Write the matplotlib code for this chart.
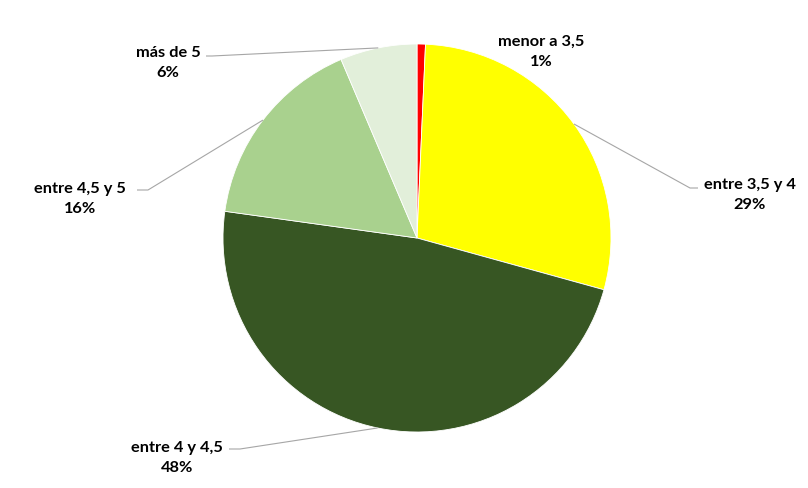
import numpy as np
import matplotlib
matplotlib.use("Agg")
import matplotlib.pyplot as plt

categories = ["menor a 3,5", "entre 3,5 y 4", "entre 4 y 4,5", "entre 4,5 y 5", "más de 5"]
values = [0.7, 28.6, 47.9, 16.4, 6.4]
pct_labels = ["1%", "29%", "48%", "16%", "6%"]
colors = ["#FF0000", "#FFFF00", "#375623", "#A9D18E", "#E2EFDA"]

W, H = 808, 489
fig = plt.figure(figsize=(W / 100, H / 100), dpi=100)
ax = fig.add_axes([0, 0, 1, 1])

cx, cy, r = 417, H - 239, 194
wedges, _ = ax.pie(values, colors=colors, startangle=90, counterclock=False,
                   center=(cx, cy), radius=r, frame=True,
                   wedgeprops=dict(edgecolor="white", linewidth=0.6))
ax.set_xlim(0, W)
ax.set_ylim(0, H)
ax.set_aspect("equal")
ax.axis("off")

# label layout (pixel coords, y from top): text center, elbow point, line end near text
layout = [
    dict(text=(541, 52), elbow=None, end=None),
    dict(text=(750, 195), elbow=(690, 189), end=(698, 189)),
    dict(text=(177, 458), elbow=(240, 450), end=(229, 450)),
    dict(text=(80, 199), elbow=(148, 191), end=(137, 191)),
    dict(text=(168, 63), elbow=(212, 57), end=(206, 57)),
]

font = dict(family=["Lato", "DejaVu Sans"], fontweight="bold", fontsize=11.8, color="black")
line_color = "#A6A6A6"

for w, cat, pct, lay in zip(wedges, categories, pct_labels, layout):
    tx, ty = lay["text"]
    ax.text(tx, H - ty, f"{cat}\n{pct}", ha="center", va="center",
            linespacing=1.5, **font)
    if lay["elbow"] is not None:
        mid = np.deg2rad((w.theta1 + w.theta2) / 2)
        sx, sy = cx + r * np.cos(mid), cy + r * np.sin(mid)
        ex, ey = lay["elbow"]
        fx, fy = lay["end"]
        ax.plot([sx, ex, fx], [sy, H - ey, H - fy], color=line_color, lw=0.8,
                solid_capstyle="butt")

fig.savefig("out.png", dpi=100)
